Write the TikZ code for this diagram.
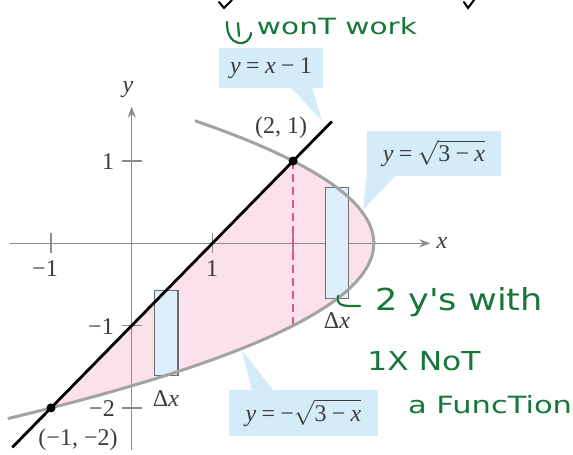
\documentclass[tikz,border=0pt]{standalone}
\usepackage{fontspec}
\usepackage{graphicx}
\setmainfont{Liberation Serif}
\newfontfamily\handfont{DejaVu Sans}
\usetikzlibrary{arrows.meta}
\definecolor{axisgray}{HTML}{8C8C8C}
\definecolor{parabgray}{HTML}{A3A3A3}
\definecolor{regionpink}{HTML}{FAE1EB}
\definecolor{calloutblue}{HTML}{D3ECF8}
\definecolor{rectblue}{HTML}{DDEFFA}
\definecolor{rectedge}{HTML}{6E6E6E}
\definecolor{dashpink}{HTML}{E64C9C}
\definecolor{textgray}{HTML}{3C3C3C}
\definecolor{handgreen}{HTML}{17763A}
\newcommand{\gsp}{\hspace{0.22em}}
\tikzset{
  axisline/.style={draw=axisgray, line width=1.3pt},
  curveline/.style={draw=parabgray, line width=3pt},
  mainline/.style={draw=black, line width=2.8pt},
  striprect/.style={fill=rectblue, draw=rectedge, line width=1.3pt},
  callout/.style={fill=calloutblue, draw=none, inner sep=0pt, text=textgray},
  lbl/.style={text=textgray, inner sep=0pt},
  hand/.style={text=handgreen, inner sep=0pt, font=\handfont},
  handstroke/.style={draw=handgreen, line width=2.2pt, line cap=round, line join=round},
  axtip/.style={-{Stealth[length=11pt,width=8pt]}},
}
\begin{document}
\begin{tikzpicture}[x=1pt,y=-1pt,font=\fontsize{24}{28}\selectfont]
\useasboundingbox (0,0) rectangle (573,455);
\fill[white] (0,0) rectangle (573,455);
\begin{scope}[xshift=131.7pt,yshift=-243.3pt,x=80.7pt,y=82.3pt]
  % region
  \fill[regionpink] plot[domain=-2:1,samples=80,variable=\t] ({3-\t*\t},\t) -- cycle;
  % axes
  \coordinate (xl) at (-1.51,0);
  \coordinate (xr) at (3.70,0);
  \coordinate (yb) at (0,-2.51);
  \coordinate (yt) at (0,1.66);
  \draw[axisline,axtip] (xl) -- (xr);
  \draw[axisline,axtip] (yb) -- (yt);
  \foreach \a in {-1,1,2} \draw[axisline] (\a,0) +(0,-0.12) -- +(0,0.12);
  \foreach \b in {1,-1,-2} \draw[axisline] (0,\b) +(-0.124,0) -- +(0.124,0);
  % dashed
  \coordinate (dtop) at (2,1);
  \coordinate (dbot) at (2,-1);
  \draw[dashpink, line width=1.8pt, dash pattern=on 8pt off 5pt] (dtop) -- (dbot);
  % strips
  \coordinate (r1a) at (0.285,-0.57);
  \coordinate (r1b) at (0.575,-1.603);
  \coordinate (r2a) at (2.40,0.6745);
  \coordinate (r2b) at (2.69,-0.6745);
  \draw[striprect] (r1a) rectangle (r1b);
  \draw[striprect] (r2a) rectangle (r2b);
  % parabola
  \draw[curveline] plot[domain=-2.13:1.49,samples=90,variable=\t,smooth] ({3-\t*\t},\t);
  % line
  \coordinate (la) at (-1.48,-2.48);
  \coordinate (lb) at (2.48,1.48);
  \draw[mainline] (la) -- (lb);
  % points
  \coordinate (P) at (2,1);
  \coordinate (Q) at (-1,-2);
  \fill[black] (P) circle[radius=4.5pt];
  \fill[black] (Q) circle[radius=4.5pt];
\end{scope}
% axis labels
\node[lbl] (xlab) at (442,243) {\textit{x}};
\node[lbl] (ylab) at (128,90) {\textit{y}};
\node[lbl] (tm1) at (45,269) {−1};
\node[lbl] (t1) at (212,269) {1};
\node[lbl] (ty1) at (108,162) {1};
\node[lbl] (tym1) at (101,327) {−1};
\node[lbl] (tym2) at (102,409) {−2};
\node[lbl] (pl) at (281,128) {(2, 1)};
\node[lbl] (ql) at (78,440) {(−1, −2)};
\node[lbl] (dx1) at (166,399) {Δ\textit{x}};
\node[lbl] (dx2) at (337,321) {Δ\textit{x}};
% callouts
\node[callout, minimum width=104pt, minimum height=40pt] (c1) at (271,68) {\textit{y}\gsp=\gsp\textit{x}\gsp−\gsp1};
\coordinate (c1tip) at (322,121);
\fill[calloutblue] ([xshift=-32pt]c1.south east) -- ([xshift=-11pt]c1.south east) -- (c1tip) -- cycle;
\node[callout, minimum width=134pt, minimum height=45pt] (c2) at (434,153.5) {\textit{y}\gsp=\gsp$\sqrt{\mbox{3\gsp−\gsp\textit{x}}}$};
\coordinate (c2tip) at (363,210);
\fill[calloutblue] (c2.south west) -- ([xshift=28pt]c2.south west) -- (c2tip) -- cycle;
\node[callout, minimum width=149pt, minimum height=46pt] (c3) at (303.5,413) {\textit{y}\gsp=\gsp−$\sqrt{\mbox{3\gsp−\gsp\textit{x}}}$};
\coordinate (c3tip) at (242,350);
\fill[calloutblue] ([xshift=23pt]c3.north west) -- ([xshift=44pt]c3.north west) -- (c3tip) -- cycle;
% handwriting
\node[hand] (hw1) at (337,26) {\resizebox{160pt}{17pt}{wonT work}};
\node[hand] (hw2) at (459,302) {\resizebox{168pt}{23pt}{2 y's with}};
\node[hand] (hw3) at (424,361) {\resizebox{113pt}{19pt}{1X NoT}};
\node[hand] (hw4) at (490,405) {\resizebox{164pt}{18pt}{a FuncTion}};
\draw[handstroke] (227,22) .. controls (226,48) and (250,48) .. (251,33);
\draw[handstroke] (238,23) -- (239,36);
\draw[handstroke] (338,296) .. controls (336,307) and (345,306) .. (360,306);
% cut-off strokes at top
\draw[black, line width=2pt, line cap=round] (219,2) -- (224,8) -- (232,0);
\draw[black, line width=2pt, line cap=round] (464,2) -- (468,8) -- (474,0);
\end{tikzpicture}
\end{document}
